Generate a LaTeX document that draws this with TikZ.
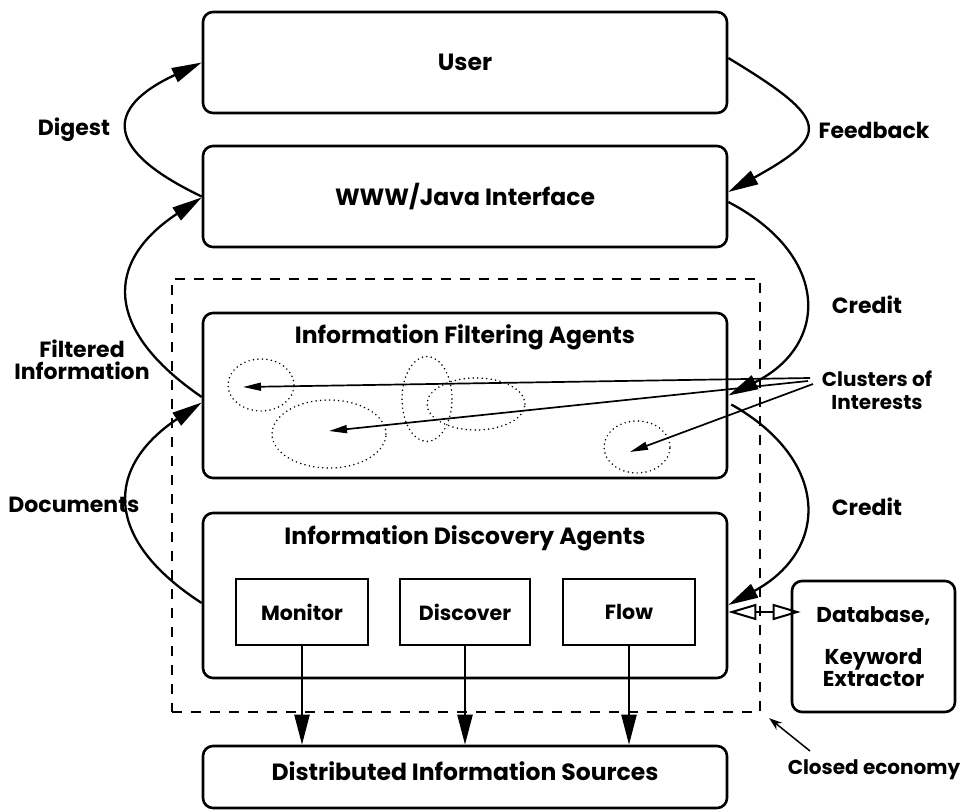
\documentclass[tikz,border=0pt]{standalone}
\usepackage{fontspec}
\setmainfont{Poppins}
\usetikzlibrary{arrows.meta,shapes.geometric}
\begin{document}
\begin{tikzpicture}[x=1pt,y=-1pt,
  box/.style={draw, line width=2.6pt, rounded corners=10pt, inner sep=0pt},
  agent/.style={draw, line width=2.6pt, inner sep=0pt, minimum width=132pt, minimum height=66pt,
    font=\fontsize{20.5}{22}\selectfont\bfseries},
  title/.style={font=\fontsize{23.5}{25}\selectfont\bfseries, inner sep=0pt},
  lab/.style={font=\fontsize{22}{22}\selectfont\bfseries, align=center, inner sep=0pt},
  econbox/.style={draw, line width=2.4pt, dash pattern=on 10pt off 9pt, inner sep=0pt},
  conn/.style={line width=2.3pt, -{Triangle[length=30pt,width=15pt]}},
  thinarr/.style={line width=1.7pt, -{Triangle[length=18pt,width=8pt]}},
  dblarr/.style={line width=2pt, {Triangle[open,length=28pt,width=16pt]}-{Triangle[open,length=28pt,width=16pt]}},
  cluster/.style={ellipse, draw, line width=1.7pt, line cap=round, dash pattern=on 0pt off 4.5pt, inner sep=0pt}
]
\useasboundingbox (0,0) rectangle (969,810);

% main layers
\node[box, minimum width=524pt, minimum height=101pt] (user) at (465,62.5) {};
\node[title] at (user.center) {User};
\node[box, minimum width=524pt, minimum height=101pt] (www) at (465,196.5) {};
\node[title] at (www.center) {WWW/Java Interface};

\node[econbox, minimum width=588pt, minimum height=433pt] (econ) at (466,495.5) {};

\node[box, minimum width=524pt, minimum height=165pt] (ifa) at (465,395.5) {};
\node[title] (ifat) at (465,337) {Information Filtering Agents};
\node[box, minimum width=524pt, minimum height=165pt] (ida) at (465,595.5) {};
\node[title] (idat) at (465,538) {Information Discovery Agents};

\node[agent] (monitor) at (302,612) {Monitor};
\node[agent, minimum width=130pt] (discover) at (465,612) {Discover};
\node[agent] (flow) at (629,612) {Flow};

\node[box, minimum width=524pt, minimum height=62pt] (dis) at (465,777) {};
\node[title] at (465,771) {Distributed Information Sources};

\node[box, minimum width=163pt, minimum height=131pt, align=center,
  font=\fontsize{21.5}{20}\selectfont\bfseries] (db) at (873.5,646.5)
  {Database,\\[22pt]Keyword\\Extractor};

% clusters of interest inside the filtering layer
\node[cluster, minimum width=66pt, minimum height=52pt] (e1) at (261,385) {};
\node[cluster, minimum width=114pt, minimum height=68pt] (e2) at (329,434) {};
\node[cluster, minimum width=50pt, minimum height=85pt] (e3) at (427,399) {};
\node[cluster, minimum width=98pt, minimum height=52pt] (e4) at (476,404) {};
\node[cluster, minimum width=66pt, minimum height=52pt] (e5) at (637,447) {};

% side labels
\node[lab] (digest) at (74,130) {Digest};
\node[lab] (feedback) at (874,130) {Feedback};
\node[lab] (filtered) at (82,360) {Filtered\\Information};
\node[lab] (documents) at (74,505) {Documents};
\node[lab] (credit1) at (867,305) {Credit};
\node[lab] (credit2) at (867,507) {Credit};
\node[lab, font=\fontsize{20}{23}\selectfont\bfseries] (clusters) at (877,390) {Clusters of\\Interests};
\node[lab, font=\fontsize{20}{22}\selectfont\bfseries] (closed) at (874,770) {Closed economy};

% left-hand flow upwards
\draw[conn] (www.west) .. controls (104,150) and (104,108) .. (user.west);
\draw[conn] ([yshift=-1.5pt]ifa.west) .. controls (104,330) and (104,262) .. ([yshift=-1pt]www.west);
\draw[conn] ([yshift=-7.5pt]ida.west) .. controls (104,540) and (104,468) .. ([yshift=-7pt]ifa.west);

% right-hand flow downwards
\draw[conn] ([yshift=4.5pt]user.east) .. controls (831,120) and (831,135) .. ([yshift=4.5pt]www.east);
\draw[conn] ([yshift=-5.5pt]www.east) .. controls (830,255) and (830,345) .. (ifa.east);
\draw[conn] ([xshift=3pt,yshift=-9pt]ifa.east) .. controls (830,460) and (830,550) .. ([yshift=-9.5pt]ida.east);

% agents to sources
\draw[conn] (monitor.south) -- (monitor.south |- dis.north);
\draw[conn] (discover.south) -- (discover.south |- dis.north);
\draw[conn] (flow.south) -- (flow.south |- dis.north);

% link to database
\coordinate (dbl) at ([yshift=-16.5pt]ida.east);
\draw[dblarr, shorten >=-10pt] (dbl) -- (dbl -| db.west);

% clusters of interests pointers
\coordinate (c1) at (810,378);
\coordinate (c2) at (808,381);
\coordinate (c3) at (813,384);
\draw[thinarr] (c1) -- ([xshift=-18pt,yshift=-2pt]e1.center);
\draw[thinarr] (c2) -- ([yshift=3pt]e2.center);
\draw[thinarr] (c3) -- ([xshift=-7pt,yshift=-5pt]e5.center);

% closed economy pointer
\coordinate (ce) at (810,751);
\draw[line width=1.5pt, -{Stealth[length=13pt,width=9pt]}] (ce) -- ([xshift=8pt,yshift=-5pt]econ.south east);
\end{tikzpicture}
\end{document}
